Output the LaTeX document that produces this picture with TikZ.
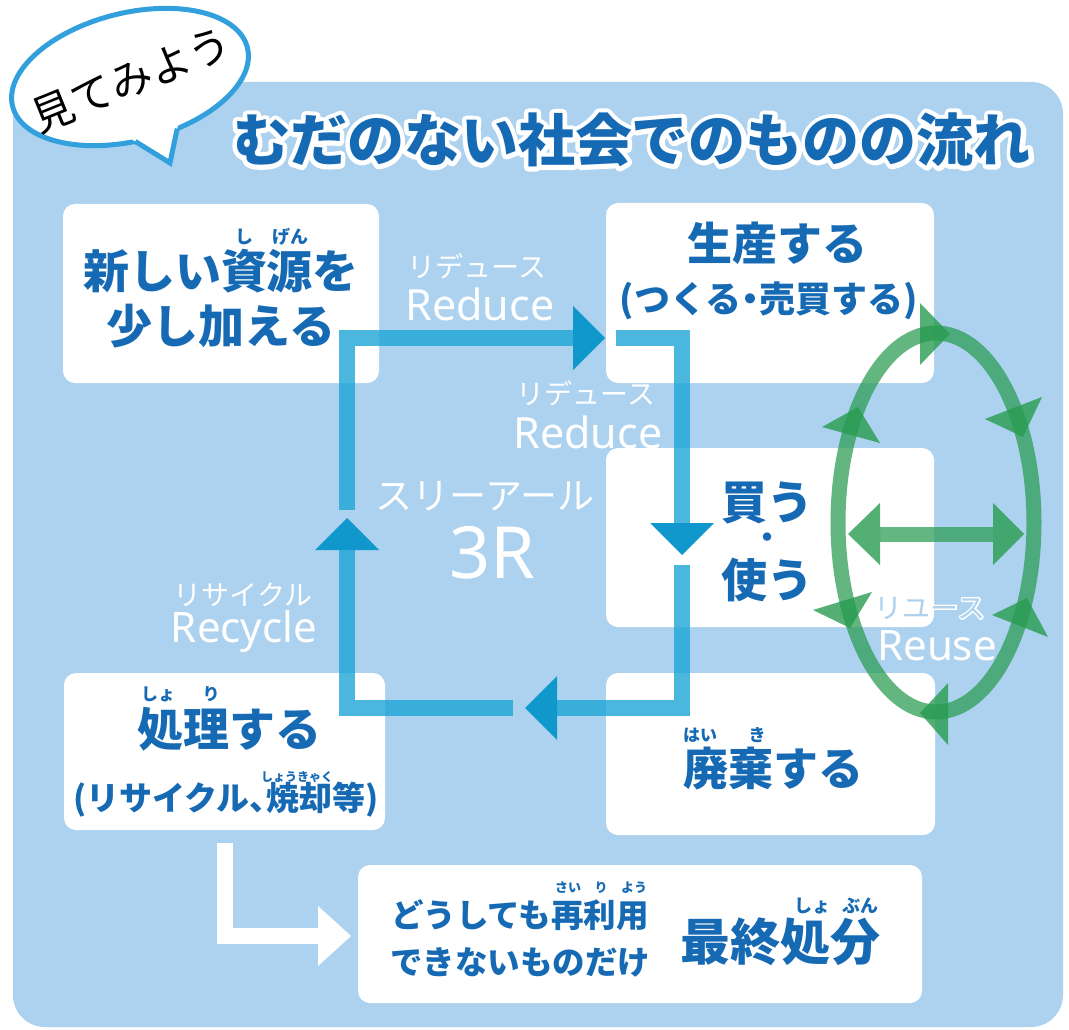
\documentclass[tikz,border=0pt]{standalone}
\usepackage{fontspec}
\newfontfamily\jp{Noto Sans CJK JP}
\newfontfamily\jpoT{Noto Sans CJK JP}[FakeBold=16]
\newfontfamily\jpoR{Noto Sans CJK JP}[FakeBold=10]
\newfontfamily\lat{Noto Sans}
\usetikzlibrary{calc}
\newcommand\fsz[1]{\fontsize{#1}{#1}\selectfont}
\newcommand\rj{\special{pdf:literal direct 1 j}}
\definecolor{panel}{RGB}{172,210,239}
\definecolor{tblue}{RGB}{22,106,180}
\definecolor{loopc}{RGB}{30,165,215}
\definecolor{loopa}{RGB}{16,152,205}
\definecolor{grn}{RGB}{40,155,80}
\definecolor{bubc}{RGB}{50,160,220}
\begin{document}
\begin{tikzpicture}[x=1pt,y=-1pt,
  boxw/.style={fill=white, rounded corners=12pt, inner sep=0pt, outer sep=0pt},
  jb/.style={text=tblue, inner sep=0pt, font={\jp\bfseries\fsz{#1}}},
  jw/.style={text=white, inner sep=0pt, font={\jp\fsz{#1}}},
  lw/.style={text=white, inner sep=0pt, font={\lat\fsz{#1}}},
  loopline/.style={draw=loopc, draw opacity=0.8, line width=16pt, line join=miter},
  loophead/.style={fill=loopa},
  gline/.style={draw=grn, draw opacity=0.72, line width=15pt},
  ghead/.style={fill=grn, fill opacity=0.8},
  wline/.style={draw=white, line width=16pt, line join=miter}
]
\useasboundingbox (0,0) rectangle (1069,1030);
\fill[white] (0,0) rectangle (1069,1030);
\fill[panel, rounded corners=32pt] (13,82) rectangle (1063,1027);

% speech bubble
\begin{scope}[shift={(130,77)}, rotate=14]
  \filldraw[fill=white, draw=bubc, line width=5pt] (0,0) ellipse [x radius=121, y radius=64];
  \coordinate (bq1) at (95:121 and 64);
  \coordinate (bq2) at (74:121 and 64);
  \coordinate (btip) at (18,93);
\end{scope}
\fill[white] (btip) -- ($(btip)!1.35!(bq1)$) -- ($(btip)!1.35!(bq2)$) -- cycle;
\draw[bubc, line width=5pt, line join=miter] (bq1) -- (btip) -- (bq2);
\node[rotate=22, font={\jp\fsz{42}}, text=black, inner sep=0pt] (bt) at (131,80) {見てみよう};

% title with white outline
\node[font={\jpoT\bfseries\fsz{57}}, text=white, inner sep=0pt] (tto) at (632,140) {\rj むだのない社会でのものの流れ};
\node[jb=57] (title) at (632,140) {むだのない社会でのものの流れ};

% boxes
\node[boxw, minimum width=316pt, minimum height=179pt] (bA) at (221,293.5) {};
\node[boxw, minimum width=328pt, minimum height=180pt] (bB) at (770,293) {};
\node[boxw, minimum width=328pt, minimum height=179pt] (bC) at (770,537.5) {};
\node[boxw, minimum width=321pt, minimum height=157pt] (bD) at (224.5,751.5) {};
\node[boxw, minimum width=329pt, minimum height=162pt] (bE) at (770.5,754) {};
\node[boxw, minimum width=564pt, minimum height=138pt] (bF) at (640,934) {};

% 3R loop
\coordinate (l1a) at (347,510); \coordinate (l1b) at (347,338); \coordinate (l1c) at (573,338);
\coordinate (l2a) at (616,338); \coordinate (l2b) at (682,338); \coordinate (l2c) at (682,523);
\coordinate (l3a) at (682,565); \coordinate (l3b) at (682,708); \coordinate (l3c) at (557,708);
\coordinate (l4a) at (513,708); \coordinate (l4b) at (347,708); \coordinate (l4c) at (347,550);
\draw[loopline] (l1a) -- (l1b) -- (l1c);
\draw[loopline] (l2a) -- (l2b) -- (l2c);
\draw[loopline] (l3a) -- (l3b) -- (l3c);
\draw[loopline] (l4a) -- (l4b) -- (l4c);
\fill[loophead] (573,306) -- (605,338) -- (573,370) -- cycle;
\fill[loophead] (650,523) -- (682,555) -- (714,523) -- cycle;
\fill[loophead] (557,676) -- (525,708) -- (557,740) -- cycle;
\fill[loophead] (315,550) -- (347,518) -- (379,550) -- cycle;

% white L arrow
\coordinate (wa) at (225,843); \coordinate (wb) at (225,936); \coordinate (wc) at (318,936);
\draw[wline] (wa) -- (wb) -- (wc);
\fill[white] (318,906) -- (351,936) -- (318,966) -- cycle;

% reuse ellipse
\coordinate (ec) at (936,522.5);
\draw[gline] (ec) ellipse [x radius=98, y radius=189.5];
\fill[ghead] (920,303) -- (950,334) -- (920,365) -- cycle;
\fill[ghead] (985,419) -- (1023,437) -- (1042,397) -- cycle;
\fill[ghead] (992,615) -- (1027,598) -- (1048,637) -- cycle;
\fill[ghead] (948,683) -- (920,713) -- (948,745) -- cycle;
\fill[ghead] (813,610) -- (850,628) -- (872,592) -- cycle;
\fill[ghead] (822,427) -- (858,407) -- (880,443) -- cycle;
\coordinate (da) at (880,534); \coordinate (db) at (993,534);
\draw[gline] (da) -- (db);
\fill[ghead] (880,503) -- (848,534) -- (880,565) -- cycle;
\fill[ghead] (993,503) -- (1024,534) -- (993,565) -- cycle;

% white labels
\node[jw=28] (r1k) at (477,266) {リデュース};
\node[lw=43, anchor=base] (r1) at (480,320) {Reduce};
\node[jw=28] (r2k) at (586,393) {リデュース};
\node[lw=43, anchor=base] (r2) at (588,448) {Reduce};
\node[jw=37] (sk) at (485,496) {スリーアール};
\node[lw=72, anchor=base] (s3) at (492,578) {3R};
\node[jw=28] (rck) at (243,595) {リサイクル};
\node[lw=42, anchor=base] (rc) at (244,642) {Recycle};
\node[text=white, inner sep=0pt, font={\jpoR\fsz{28}}] (ruo) at (930,608) {\rj リユース};
\node[jw=28, text=panel] (ruk) at (930,608) {リユース};
\node[lw=42, anchor=base] (ru) at (937,660) {Reuse};

% box texts
\node[jb=46] (a1) at (221,271) {新しい資源を};
\node[jb=46] (a2) at (221,326) {少し加える};
\node[jb=18] (ar1) at (244,237) {し};
\node[jb=18] (ar2) at (290,237) {げん};

\node[jb=45] (b1) at (777,243) {生産する};
\node[jb=36] (b2) at (769,301) {(つくる\kern-.25em・\kern-.25em売買する)};

\node[jb=46] (c1) at (767,503) {買う};
\node[jb=30] (c2) at (767,541) {・};
\node[jb=46] (c3) at (767,580) {使う};

\node[jb=46] (d1) at (229,729) {処理する};
\node[jb=17] (dr1) at (158,694) {しょ};
\node[jb=17] (dr2) at (211,694) {り};
\node[jb=33, anchor=west] (d2) at (73,800) {(リサイクル、\kern-.5em焼却等)};
\node[jb=12] (dr3) at (297,777) {しょうきゃく};

\node[jb=45] (e1) at (773,769) {廃棄する};
\node[jb=17] (er1) at (700,735) {はい};
\node[jb=17] (er2) at (757,735) {き};

\node[jb=32.5] (f1) at (520,915) {どうしても再利用};
\node[jb=32.5] (f2) at (520,962) {できないものだけ};
\node[jb=13] (fr1) at (568,888) {さい};
\node[jb=13] (fr2) at (601,888) {り};
\node[jb=13] (fr3) at (634,888) {よう};
\node[jb=50] (f3) at (780,942) {最終処分};
\node[jb=18] (fr4) at (812,906) {しょ};
\node[jb=18] (fr5) at (860,906) {ぶん};
\end{tikzpicture}
\end{document}
